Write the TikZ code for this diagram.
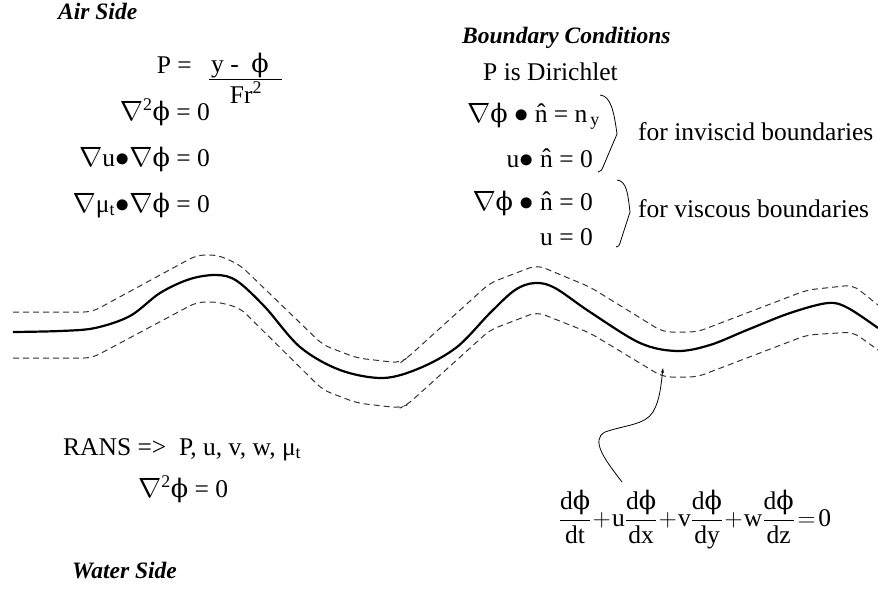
\documentclass[tikz,border=0pt]{standalone}
\usepackage{amsmath}
\usepackage{graphicx}
\usepackage{fontspec}
\setmainfont{Liberation Serif}
\newfontfamily\symf{DejaVu Serif}
\usetikzlibrary{arrows.meta}

\newcommand{\gph}{{\symf ϕ}}
\newcommand{\nab}{\scalebox{1.12}{$\nabla$}}
\newcommand{\bul}{\scalebox{1.15}{$\bullet$}}

\tikzset{
  txt/.style={font=\fontsize{25.5}{29}\selectfont, inner sep=0pt},
  ttl/.style={font=\fontsize{23.5}{28}\selectfont\bfseries\itshape, inner sep=0pt},
  surf/.style={line width=2.2pt, line join=round},
  band/.style={black!80, line width=1pt, dash pattern=on 6pt off 4pt, rounded corners=8pt},
  brc/.style={line width=0.8pt, line join=round}
}

\begin{document}
\begin{tikzpicture}[x=1pt, y=-1pt]
\useasboundingbox (0,0) rectangle (878,590);

% Air side
\node[ttl, anchor=base west] (airside) at (58,19) {Air Side};
\node[txt, anchor=base east] (peq) at (192,73) {P =};
\node[txt, anchor=base] (pnum) at (240,72) {y -\ \ \gph};
\node[txt, anchor=base] (pden) at (246,103) {Fr\textsuperscript{2}};
\draw[line width=0.9pt] (209,79) -- (282,79);
\node[txt, anchor=base east] (lapair) at (210,120) {\nab\textsuperscript{2}\gph\ = 0};
\node[txt, anchor=base east] (gradu) at (210,166) {\nab u\bul\nab\gph\ = 0};
\node[txt, anchor=base east] (gradmu) at (210,212) {\nab μ$_{\text{t}}$\bul\nab\gph\ = 0};

% Boundary conditions
\node[ttl, anchor=base west] (bctitle) at (462,43) {Boundary Conditions};
\node[txt, anchor=base west] (dirich) at (483,80) {P is Dirichlet};
\node[txt, anchor=base east] (invA) at (600,122) {\nab\gph\ \bul\ \^{n} = n$_{\,\text{y}}$};
\node[txt, anchor=base east] (invB) at (593,167) {u\bul\ \^{n} = 0};
\node[txt, anchor=base east] (visA) at (593,210) {\nab\gph\ \bul\ \^{n} = 0};
\node[txt, anchor=base east] (visB) at (593,245) {u = 0};
\draw[brc] (600,95) .. controls (611,96) and (614,112) .. (617,134)
  -- (603,167) .. controls (602,170) .. (598,172);
\draw[brc] (617,180) .. controls (627,181) and (628,195) .. (630,212)
  -- (620,243) .. controls (619,246) .. (616,247);
\node[txt, anchor=base west] (invtxt) at (638,140) {for inviscid boundaries};
\node[txt, anchor=base west] (vistxt) at (638,217) {for viscous boundaries};

% Free surface and its band
\draw[surf] plot[smooth, tension=0.55] coordinates {
  (13,332) (60,331) (95,328) (130,316) (160,293) (190,279) (217,275)
  (237,281) (265,307) (300,347) (340,370) (383,378) (420,368) (457,347)
  (490,313) (515,290) (535,283) (555,288) (590,312) (640,343) (677,351)
  (710,345) (747,330) (790,313) (828,303) (848,308) (878,328)};
\draw[band] (13,312) -- (92,312) -- (197,255) -- (218,255) -- (240,265)
  -- (323,345) -- (357,358) -- (400,363) -- (407,358) -- (490,283)
  -- (537,265) -- (590,287) -- (663,332) -- (697,332) -- (807,290)
  -- (853,285) -- (878,305);
\draw[band] (13,358) -- (92,358) -- (197,302) -- (218,302) -- (240,308)
  -- (323,390) -- (357,403) -- (400,408) -- (407,405) -- (490,330)
  -- (537,312) -- (590,333) -- (663,377) -- (697,377) -- (807,335)
  -- (853,332) -- (878,350);

% Water side
\node[txt, anchor=base west] (rans) at (63,455) {RANS =>\ \ P, u, v, w, μ$_{\text{t}}$};
\node[txt, anchor=base west] (lapwat) at (138,497) {\nab\textsuperscript{2}\gph\ = 0};
\node[ttl, anchor=base west] (waterside) at (72,578) {Water Side};

% Kinematic condition
\node[txt] (kin) at (695,520) {$\dfrac{\text{d\gph}}{\text{dt}}\!+\!\text{u}\dfrac{\text{d\gph}}{\text{dx}}
  \!+\!\text{v}\dfrac{\text{d\gph}}{\text{dy}}\!+\!\text{w}\dfrac{\text{d\gph}}{\text{dz}}\!=\!\text{0}$};
\coordinate (tail) at (622,482);
\coordinate (surfpt) at (663,368);
\draw[line width=0.8pt, -{Stealth[length=5pt, width=3pt]}] (tail)
  .. controls (605,460) and (590,440) .. (605,432)
  .. controls (625,425) and (645,425) .. (653,412)
  .. controls (660,400) and (661,385) .. (surfpt);
\end{tikzpicture}
\end{document}
